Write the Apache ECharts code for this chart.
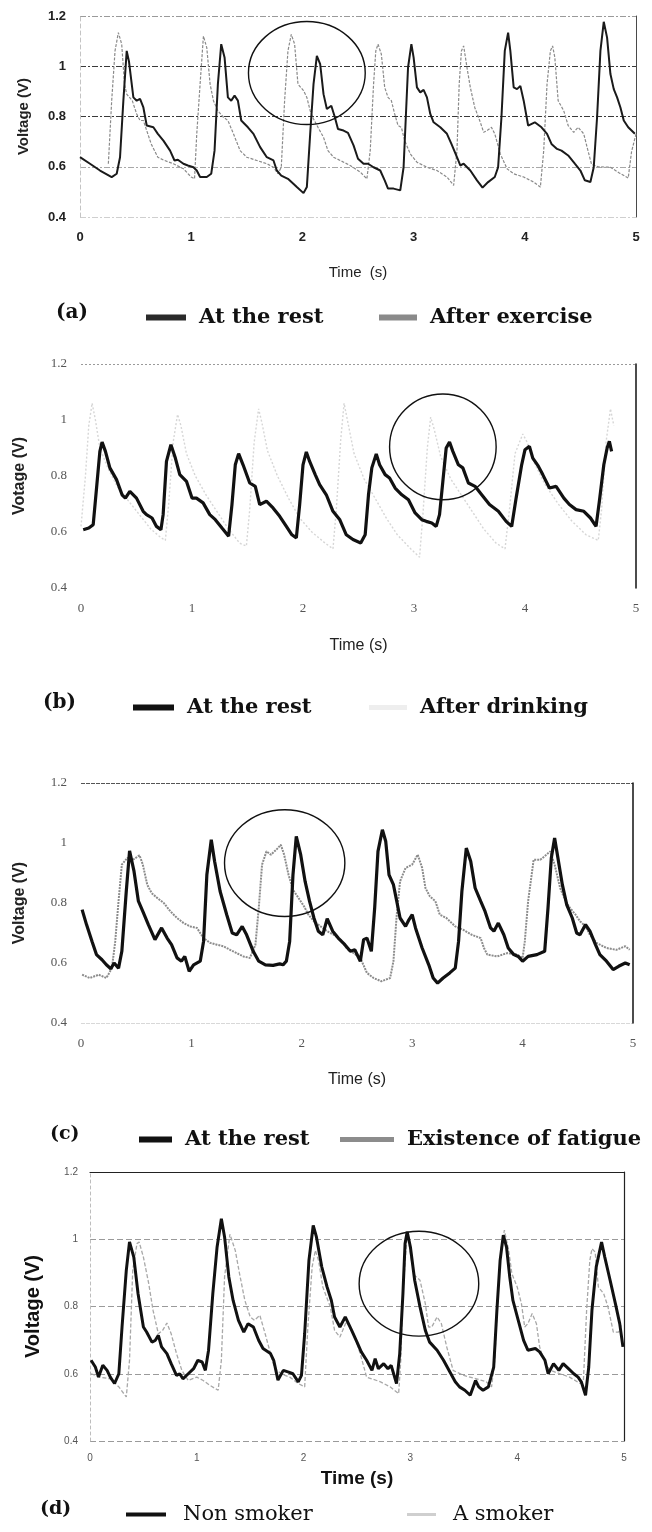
<!DOCTYPE html>
<html lang="en">
<head>
<meta charset="utf-8" />
<title>Pulse wave voltage</title>
<script src="https://cdn.jsdelivr.net/npm/echarts@6/dist/echarts.min.js"></script>
<style>
html, body { margin: 0; padding: 0; background: #fff; }
#chart { width: 652px; height: 1532px; }
</style>
</head>
<body>
<div id="chart"></div>
<script>
// axis ranges shared by the four panels
var timeTicks = [0, 1, 2, 3, 4, 5];
var voltTicks = [0.4, 0.6, 0.8, 1.0, 1.2];

// (a) at the rest / after exercise   [time (s), voltage (V)]
var restA = [[0,0.638],[0.09,0.612],[0.18,0.585],[0.285,0.559],[0.33,0.572],[0.36,0.638],[0.39,0.863],[0.42,1.061],[0.44,1.02],[0.48,0.876],[0.51,0.863],[0.54,0.87],[0.57,0.836],[0.60,0.764],[0.66,0.757],[0.70,0.731],[0.75,0.704],[0.81,0.664],[0.85,0.625],[0.88,0.628],[0.93,0.612],[0.97,0.605],[1.02,0.598],[1.05,0.585],[1.08,0.559],[1.14,0.559],[1.18,0.572],[1.21,0.664],[1.24,0.929],[1.27,1.088],[1.30,1.035],[1.33,0.876],[1.36,0.863],[1.39,0.883],[1.42,0.863],[1.45,0.784],[1.51,0.757],[1.56,0.731],[1.62,0.678],[1.68,0.638],[1.74,0.625],[1.77,0.585],[1.81,0.565],[1.87,0.552],[1.95,0.519],[2.01,0.495],[2.04,0.519],[2.07,0.731],[2.10,0.929],[2.13,1.041],[2.16,1.008],[2.19,0.889],[2.22,0.83],[2.26,0.843],[2.29,0.80],[2.32,0.75],[2.37,0.744],[2.41,0.735],[2.46,0.685],[2.50,0.632],[2.55,0.612],[2.59,0.612],[2.64,0.598],[2.70,0.585],[2.74,0.546],[2.77,0.513],[2.82,0.513],[2.88,0.506],[2.91,0.598],[2.93,0.797],[2.95,0.995],[2.98,1.088],[3.00,1.035],[3.03,0.916],[3.06,0.896],[3.09,0.906],[3.12,0.876],[3.15,0.81],[3.18,0.777],[3.24,0.757],[3.30,0.731],[3.34,0.691],[3.39,0.638],[3.42,0.605],[3.45,0.612],[3.51,0.585],[3.57,0.546],[3.62,0.517],[3.67,0.539],[3.73,0.559],[3.76,0.598],[3.79,0.797],[3.82,1.061],[3.85,1.134],[3.87,1.061],[3.90,0.916],[3.93,0.909],[3.96,0.922],[3.99,0.863],[4.03,0.764],[4.09,0.777],[4.15,0.757],[4.20,0.731],[4.24,0.691],[4.29,0.671],[4.33,0.664],[4.39,0.645],[4.45,0.612],[4.50,0.585],[4.54,0.546],[4.59,0.539],[4.62,0.598],[4.65,0.797],[4.68,1.061],[4.71,1.177],[4.74,1.114],[4.77,0.969],[4.80,0.909],[4.83,0.876],[4.86,0.836],[4.89,0.784],[4.93,0.757],[4.99,0.731]];
var exerciseA = [[0.255,0.612],[0.285,0.863],[0.315,1.061],[0.345,1.134],[0.375,1.088],[0.40,0.929],[0.42,0.889],[0.47,0.863],[0.51,0.81],[0.54,0.784],[0.57,0.784],[0.60,0.744],[0.64,0.691],[0.70,0.638],[0.76,0.625],[0.84,0.612],[0.93,0.592],[1.00,0.559],[1.03,0.552],[1.05,0.731],[1.08,0.929],[1.11,1.12],[1.14,1.074],[1.17,0.929],[1.20,0.863],[1.24,0.823],[1.29,0.797],[1.33,0.784],[1.38,0.731],[1.44,0.664],[1.50,0.638],[1.59,0.625],[1.68,0.612],[1.74,0.598],[1.78,0.572],[1.81,0.598],[1.84,0.863],[1.87,1.061],[1.90,1.127],[1.93,1.088],[1.96,0.929],[2.01,0.903],[2.04,0.876],[2.07,0.823],[2.10,0.79],[2.14,0.757],[2.19,0.717],[2.23,0.664],[2.28,0.638],[2.34,0.625],[2.43,0.605],[2.52,0.579],[2.58,0.552],[2.61,0.664],[2.64,0.929],[2.66,1.061],[2.68,1.088],[2.71,1.048],[2.74,0.916],[2.77,0.876],[2.80,0.863],[2.83,0.81],[2.86,0.764],[2.89,0.757],[2.92,0.704],[2.97,0.651],[3.03,0.618],[3.12,0.598],[3.21,0.585],[3.30,0.559],[3.36,0.526],[3.39,0.664],[3.41,0.929],[3.43,1.061],[3.45,1.081],[3.48,0.995],[3.51,0.916],[3.55,0.836],[3.60,0.777],[3.63,0.737],[3.66,0.744],[3.70,0.757],[3.73,0.731],[3.78,0.651],[3.84,0.592],[3.90,0.572],[3.99,0.559],[4.08,0.539],[4.14,0.519],[4.17,0.664],[4.20,0.929],[4.23,1.061],[4.25,1.081],[4.27,1.035],[4.30,0.863],[4.35,0.823],[4.39,0.764],[4.44,0.737],[4.48,0.757],[4.53,0.731],[4.56,0.678],[4.60,0.61],[4.66,0.60],[4.77,0.598],[4.85,0.575],[4.93,0.555],[4.96,0.66],[5.0,0.73]];

// (b) at the rest / after drinking
var restB = [[0.02,0.608],[0.07,0.614],[0.11,0.626],[0.14,0.757],[0.17,0.888],[0.19,0.921],[0.22,0.888],[0.26,0.829],[0.32,0.787],[0.37,0.733],[0.40,0.721],[0.44,0.745],[0.50,0.721],[0.56,0.674],[0.59,0.662],[0.64,0.65],[0.68,0.62],[0.72,0.608],[0.74,0.662],[0.77,0.852],[0.81,0.912],[0.85,0.864],[0.89,0.805],[0.95,0.781],[1.00,0.721],[1.04,0.721],[1.10,0.704],[1.16,0.662],[1.21,0.644],[1.27,0.614],[1.33,0.585],[1.36,0.698],[1.39,0.84],[1.42,0.88],[1.46,0.84],[1.52,0.775],[1.57,0.763],[1.61,0.698],[1.67,0.71],[1.73,0.686],[1.79,0.656],[1.85,0.62],[1.90,0.59],[1.94,0.579],[1.97,0.698],[2.00,0.84],[2.03,0.886],[2.06,0.852],[2.11,0.805],[2.15,0.769],[2.21,0.733],[2.27,0.674],[2.33,0.645],[2.39,0.59],[2.45,0.573],[2.52,0.561],[2.56,0.59],[2.59,0.733],[2.62,0.829],[2.66,0.879],[2.69,0.84],[2.74,0.805],[2.78,0.793],[2.83,0.757],[2.89,0.733],[2.95,0.715],[3.01,0.668],[3.07,0.644],[3.11,0.638],[3.16,0.632],[3.20,0.62],[3.23,0.662],[3.26,0.781],[3.29,0.9],[3.32,0.921],[3.35,0.888],[3.40,0.84],[3.44,0.829],[3.49,0.775],[3.55,0.763],[3.61,0.733],[3.68,0.698],[3.76,0.674],[3.83,0.638],[3.88,0.62],[3.92,0.721],[3.97,0.84],[4.00,0.894],[4.04,0.906],[4.07,0.864],[4.12,0.835],[4.16,0.805],[4.22,0.757],[4.28,0.763],[4.35,0.721],[4.40,0.698],[4.46,0.68],[4.53,0.674],[4.59,0.65],[4.64,0.62],[4.67,0.71],[4.71,0.84],[4.74,0.9],[4.76,0.924],[4.78,0.888]];
var drinkB = [[0.00,0.62],[0.04,0.80],[0.07,0.98],[0.10,1.06],[0.13,1.00],[0.17,0.90],[0.24,0.83],[0.33,0.76],[0.43,0.71],[0.53,0.66],[0.63,0.61],[0.72,0.58],[0.76,0.57],[0.79,0.70],[0.83,0.92],[0.87,1.02],[0.90,0.98],[0.95,0.88],[1.03,0.80],[1.13,0.73],[1.23,0.67],[1.33,0.61],[1.43,0.56],[1.49,0.55],[1.52,0.68],[1.56,0.92],[1.60,1.04],[1.63,0.99],[1.68,0.89],[1.77,0.80],[1.87,0.72],[1.97,0.65],[2.08,0.60],[2.20,0.56],[2.27,0.54],[2.30,0.68],[2.34,0.93],[2.37,1.06],[2.40,1.00],[2.46,0.88],[2.55,0.79],[2.65,0.72],[2.75,0.65],[2.85,0.59],[2.97,0.54],[3.05,0.51],[3.08,0.66],[3.12,0.90],[3.15,1.01],[3.18,0.97],[3.24,0.87],[3.33,0.79],[3.43,0.73],[3.53,0.67],[3.63,0.61],[3.74,0.56],[3.82,0.54],[3.86,0.68],[3.91,0.88],[3.98,0.95],[4.02,0.92],[4.08,0.85],[4.18,0.77],[4.30,0.70],[4.42,0.64],[4.55,0.59],[4.66,0.57],[4.69,0.68],[4.73,0.92],[4.77,1.04],[4.80,0.98]];

// (c) at the rest / existence of fatigue
var restC = [[0.01,0.778],[0.05,0.728],[0.10,0.672],[0.14,0.628],[0.19,0.611],[0.23,0.594],[0.27,0.581],[0.30,0.600],[0.34,0.583],[0.37,0.639],[0.41,0.839],[0.44,0.974],[0.48,0.906],[0.52,0.806],[0.56,0.772],[0.61,0.728],[0.67,0.678],[0.73,0.717],[0.78,0.683],[0.82,0.661],[0.87,0.617],[0.91,0.606],[0.94,0.622],[0.98,0.572],[1.02,0.594],[1.08,0.606],[1.11,0.672],[1.14,0.894],[1.18,1.011],[1.21,0.939],[1.26,0.839],[1.32,0.761],[1.37,0.700],[1.41,0.694],[1.46,0.722],[1.50,0.694],[1.56,0.639],[1.61,0.606],[1.67,0.594],[1.74,0.592],[1.80,0.597],[1.83,0.594],[1.86,0.606],[1.89,0.672],[1.92,0.894],[1.95,1.022],[1.99,0.961],[2.03,0.872],[2.07,0.806],[2.11,0.750],[2.15,0.706],[2.19,0.694],[2.23,0.748],[2.28,0.706],[2.33,0.683],[2.39,0.661],[2.44,0.639],[2.48,0.644],[2.53,0.606],[2.56,0.678],[2.59,0.683],[2.63,0.639],[2.66,0.783],[2.69,0.972],[2.73,1.044],[2.76,1.006],[2.79,0.894],[2.83,0.861],[2.86,0.806],[2.89,0.750],[2.94,0.722],[2.97,0.744],[3.00,0.761],[3.03,0.717],[3.09,0.650],[3.15,0.594],[3.19,0.550],[3.23,0.533],[3.28,0.550],[3.34,0.567],[3.39,0.583],[3.42,0.672],[3.45,0.839],[3.49,0.983],[3.53,0.939],[3.57,0.850],[3.62,0.806],[3.66,0.772],[3.71,0.717],[3.74,0.706],[3.78,0.733],[3.83,0.694],[3.87,0.650],[3.92,0.628],[3.96,0.622],[4.00,0.606],[4.05,0.622],[4.13,0.628],[4.20,0.639],[4.23,0.783],[4.26,0.950],[4.29,1.017],[4.32,0.950],[4.36,0.861],[4.40,0.794],[4.45,0.750],[4.49,0.700],[4.52,0.694],[4.57,0.728],[4.61,0.706],[4.66,0.661],[4.70,0.628],[4.76,0.606],[4.82,0.578],[4.87,0.589],[4.93,0.600],[4.97,0.594]];
var fatigueC = [[0.01,0.561],[0.08,0.550],[0.16,0.561],[0.23,0.550],[0.28,0.583],[0.31,0.672],[0.34,0.806],[0.37,0.928],[0.42,0.950],[0.47,0.944],[0.53,0.959],[0.56,0.928],[0.60,0.861],[0.64,0.833],[0.69,0.817],[0.75,0.800],[0.81,0.772],[0.87,0.750],[0.93,0.733],[0.99,0.722],[1.05,0.717],[1.11,0.683],[1.17,0.667],[1.23,0.661],[1.29,0.656],[1.35,0.644],[1.41,0.633],[1.47,0.622],[1.53,0.617],[1.58,0.661],[1.61,0.783],[1.64,0.928],[1.68,0.972],[1.72,0.961],[1.77,0.978],[1.81,0.994],[1.84,0.961],[1.88,0.894],[1.92,0.844],[1.97,0.817],[2.02,0.789],[2.06,0.761],[2.11,0.739],[2.17,0.722],[2.23,0.706],[2.29,0.694],[2.35,0.678],[2.41,0.647],[2.47,0.633],[2.53,0.617],[2.59,0.567],[2.65,0.550],[2.72,0.539],[2.80,0.550],[2.83,0.606],[2.86,0.761],[2.89,0.872],[2.94,0.917],[3.00,0.928],[3.05,0.961],[3.09,0.917],[3.12,0.850],[3.16,0.822],[3.21,0.806],[3.25,0.761],[3.31,0.750],[3.39,0.722],[3.46,0.711],[3.54,0.694],[3.62,0.683],[3.65,0.650],[3.68,0.628],[3.77,0.622],[3.86,0.633],[3.95,0.628],[4.00,0.617],[4.02,0.672],[4.05,0.806],[4.10,0.944],[4.16,0.944],[4.20,0.956],[4.25,0.972],[4.29,0.928],[4.34,0.850],[4.39,0.806],[4.43,0.783],[4.48,0.761],[4.52,0.739],[4.57,0.722],[4.61,0.694],[4.67,0.667],[4.76,0.650],[4.85,0.644],[4.93,0.656],[4.97,0.644]];

// (d) non smoker / a smoker
var restD = [[0.01,0.640],[0.05,0.620],[0.08,0.590],[0.12,0.625],[0.16,0.610],[0.19,0.590],[0.23,0.571],[0.27,0.600],[0.30,0.739],[0.34,0.908],[0.37,0.992],[0.41,0.947],[0.45,0.838],[0.50,0.739],[0.53,0.724],[0.58,0.694],[0.61,0.699],[0.64,0.714],[0.67,0.680],[0.72,0.660],[0.76,0.630],[0.81,0.595],[0.84,0.600],[0.87,0.585],[0.92,0.600],[0.97,0.615],[1.01,0.640],[1.05,0.635],[1.08,0.610],[1.11,0.670],[1.15,0.838],[1.19,0.977],[1.23,1.061],[1.26,1.007],[1.30,0.888],[1.34,0.818],[1.39,0.759],[1.44,0.724],[1.48,0.749],[1.53,0.739],[1.58,0.699],[1.62,0.675],[1.69,0.660],[1.72,0.640],[1.76,0.581],[1.81,0.610],[1.86,0.605],[1.90,0.600],[1.95,0.576],[1.98,0.595],[2.01,0.719],[2.05,0.937],[2.09,1.041],[2.12,1.007],[2.17,0.918],[2.22,0.858],[2.26,0.818],[2.29,0.769],[2.34,0.739],[2.39,0.769],[2.45,0.729],[2.50,0.694],[2.54,0.665],[2.59,0.640],[2.64,0.610],[2.67,0.645],[2.70,0.615],[2.75,0.630],[2.79,0.615],[2.82,0.625],[2.87,0.571],[2.90,0.660],[2.93,0.838],[2.95,0.987],[2.97,1.022],[3.00,0.977],[3.04,0.878],[3.09,0.799],[3.14,0.729],[3.18,0.694],[3.25,0.670],[3.31,0.640],[3.37,0.605],[3.42,0.576],[3.46,0.561],[3.51,0.551],[3.56,0.536],[3.61,0.580],[3.64,0.561],[3.68,0.551],[3.73,0.561],[3.78,0.620],[3.81,0.789],[3.84,0.937],[3.87,1.012],[3.90,0.977],[3.93,0.888],[3.96,0.818],[4.01,0.759],[4.06,0.699],[4.10,0.670],[4.17,0.675],[4.21,0.665],[4.26,0.640],[4.29,0.600],[4.34,0.630],[4.39,0.610],[4.43,0.630],[4.48,0.615],[4.53,0.600],[4.57,0.590],[4.60,0.576],[4.64,0.536],[4.67,0.620],[4.70,0.789],[4.74,0.918],[4.79,0.992],[4.82,0.947],[4.87,0.878],[4.92,0.808],[4.96,0.749],[4.99,0.680]];
var smokerD = [[0.01,0.600],[0.09,0.590],[0.19,0.585],[0.27,0.561],[0.34,0.531],[0.37,0.640],[0.40,0.908],[0.44,0.987],[0.46,0.992],[0.50,0.947],[0.55,0.868],[0.59,0.789],[0.64,0.719],[0.68,0.729],[0.72,0.751],[0.76,0.719],[0.81,0.660],[0.86,0.610],[0.92,0.580],[1.00,0.590],[1.06,0.580],[1.12,0.566],[1.20,0.551],[1.23,0.640],[1.26,0.888],[1.31,1.015],[1.36,0.967],[1.40,0.898],[1.45,0.818],[1.50,0.769],[1.54,0.759],[1.59,0.774],[1.64,0.719],[1.69,0.660],[1.73,0.615],[1.79,0.600],[1.87,0.590],[1.95,0.571],[2.01,0.561],[2.04,0.739],[2.08,0.918],[2.11,0.967],[2.14,0.937],[2.18,0.858],[2.25,0.799],[2.29,0.729],[2.34,0.709],[2.40,0.755],[2.47,0.719],[2.53,0.660],[2.59,0.590],[2.72,0.576],[2.81,0.561],[2.89,0.541],[2.91,0.640],[2.93,0.838],[2.97,1.022],[3.01,0.937],[3.04,0.892],[3.09,0.878],[3.14,0.808],[3.17,0.739],[3.20,0.739],[3.25,0.769],[3.29,0.749],[3.34,0.680],[3.40,0.610],[3.50,0.595],[3.62,0.585],[3.71,0.576],[3.76,0.561],[3.79,0.640],[3.82,0.838],[3.85,0.977],[3.88,1.027],[3.92,0.967],[3.95,0.898],[4.00,0.858],[4.04,0.808],[4.07,0.739],[4.10,0.749],[4.14,0.779],[4.18,0.749],[4.21,0.680],[4.26,0.630],[4.31,0.610],[4.40,0.600],[4.49,0.590],[4.59,0.571],[4.62,0.580],[4.65,0.789],[4.68,0.937],[4.70,0.972],[4.73,0.962],[4.76,0.858],[4.81,0.838],[4.85,0.799],[4.90,0.724],[4.95,0.724],[4.98,0.749]];

// circled regions: [centre time, centre voltage, half width (s), half height (V)]
var circleA = [2.04, 0.973, 0.525, 0.205];
var circleB = [3.26, 0.904, 0.48, 0.189];
var circleC = [1.845, 0.933, 0.545, 0.178];
var circleD = [3.08, 0.868, 0.56, 0.156];

var chart = echarts.init(document.getElementById('chart'));

var tMin = timeTicks[0], tMax = timeTicks[timeTicks.length - 1], tStep = timeTicks[1] - timeTicks[0];
var vMin = voltTicks[0], vMax = voltTicks[voltTicks.length - 1], vStep = 0.2;
var clear = 'rgba(0,0,0,0)';

var sans = 'Liberation Sans', serif = 'Liberation Serif', wideSerif = 'DejaVu Serif';

function mainX(i, lab, nameGap, nameStyle, name) {
  return {
    gridIndex: i, type: 'value', min: tMin, max: tMax, interval: tStep,
    axisLine: { show: false }, axisTick: { show: false }, splitLine: { show: false },
    axisLabel: lab,
    name: name || 'Time (s)', nameLocation: 'middle', nameGap: nameGap, nameTextStyle: nameStyle
  };
}
function mainY(i, lab, grid, leftLine, name, nameGap, nameStyle) {
  return {
    gridIndex: i, type: 'value', min: vMin, max: vMax, interval: vStep,
    axisLine: leftLine ? { show: true, lineStyle: leftLine } : { show: false },
    axisTick: { show: false },
    splitLine: { show: true, lineStyle: grid },
    axisLabel: lab,
    name: name, nameLocation: 'middle', nameGap: nameGap, nameTextStyle: nameStyle
  };
}
function borderY(i, color, width) {
  return {
    gridIndex: i, type: 'value', position: 'right', min: vMin, max: vMax,
    axisLine: { show: true, onZero: false, lineStyle: { color: color, width: width } },
    axisTick: { show: false }, axisLabel: { show: false }, splitLine: { show: false }
  };
}
function line(name, i, data, color, width, type, z) {
  return {
    name: name, type: 'line', xAxisIndex: i, yAxisIndex: i, data: data,
    showSymbol: false, symbol: 'none', smooth: false, z: z,
    lineStyle: { color: color, width: width, type: type },
    itemStyle: { color: color }
  };
}
function circle(i, c) {
  return {
    type: 'custom', xAxisIndex: i, yAxisIndex: i, data: [c], clip: false, silent: true, z: 6,
    renderItem: function (params, api) {
      var p = api.coord([api.value(0), api.value(1)]);
      var s = api.size([api.value(2), api.value(3)]);
      return {
        type: 'ellipse',
        shape: { cx: p[0], cy: p[1], rx: s[0], ry: s[1] },
        style: { fill: 'none', stroke: '#111', lineWidth: 1.4 }
      };
    }
  };
}
function key(name, left, top, color, w, h, font) {
  return {
    left: left, top: top, itemWidth: w, itemHeight: h, selectedMode: false,
    data: [{ name: name, icon: 'rect', itemStyle: { color: color, borderWidth: 0 } }],
    textStyle: font
  };
}

var labA = { margin: 14, fontFamily: sans, fontSize: 13, fontWeight: 'bold', color: '#222' };
var labSerif = { margin: 14, fontFamily: serif, fontSize: 13, color: '#555' };
var labD = { margin: 12, fontFamily: sans, fontSize: 10, color: '#555' };
var keyBold = { fontFamily: wideSerif, fontWeight: 'bold', fontSize: 21, color: '#111', padding: [0, 0, 0, 8] };
var keyPlain = { fontFamily: wideSerif, fontSize: 21, color: '#111', padding: [0, 0, 0, 12] };
var tagBold = { fontFamily: wideSerif, fontWeight: 'bold', fontSize: 20, color: '#111' };

var option = {
  backgroundColor: '#fff',
  animation: false,
  grid: [
    { left: 80, top: 16, width: 556, height: 201 },
    { left: 81, top: 364, width: 555, height: 224 },
    { left: 81, top: 783, width: 552, height: 240 },
    { left: 90, top: 1172, width: 534, height: 269 }
  ],
  title: [
    { text: '(a)', left: 56, top: 303, padding: 0, textStyle: tagBold },
    { text: '(b)', left: 43, top: 693, padding: 0, textStyle: tagBold },
    { text: '(c)', left: 50, top: 1125, padding: 0, textStyle: { fontFamily: wideSerif, fontSize: 19, color: '#111' } },
    { text: '(d)', left: 40, top: 1500, padding: 0, textStyle: { fontFamily: wideSerif, fontSize: 19, color: '#111' } }
  ],
  legend: [
    key('At the rest', 141, 302, '#2a2a2a', 40, 6, keyBold),
    key('After exercise', 374, 302, '#8a8a8a', 38, 6, keyBold),
    key('At the rest', 128, 692, '#111', 41, 6, keyBold),
    key('After drinking', 364, 692, '#eeeeee', 38, 5, keyBold),
    key('At the rest', 134, 1124, '#111', 33, 6, keyBold),
    key('Existence of fatigue', 335, 1124, '#8c8c8c', 54, 5, keyBold),
    key('Non smoker', 121, 1499, '#111', 40, 4, keyPlain),
    key('A smoker', 402, 1499, '#cfcfcf', 29, 3, keyPlain)
  ],
  xAxis: [
    mainX(0, labA, 48, { fontFamily: sans, fontSize: 15, color: '#222' }, 'Time  (s)'),
    mainX(1, labSerif, 50, { fontFamily: sans, fontSize: 16, color: '#222' }),
    mainX(2, labSerif, 49, { fontFamily: sans, fontSize: 16, color: '#222' }),
    mainX(3, labD, 28, { fontFamily: sans, fontSize: 19, fontWeight: 'bold', color: '#111' }),
    // solid top border of panel (d)
    { gridIndex: 3, type: 'value', position: 'top', min: tMin, max: tMax,
      axisLine: { show: true, onZero: false, lineStyle: { color: '#222', width: 1.2 } },
      axisTick: { show: false }, axisLabel: { show: false }, splitLine: { show: false } }
  ],
  yAxis: [
    mainY(0, labA, { color: ['#cfcfcf', '#a8a8a8', '#3a3a3a', '#3a3a3a', '#9a9a9a'], type: [6, 2, 2, 2], width: 1 },
      { color: '#c4c4c4', type: [4, 3] }, 'Voltage (V)', 49, { fontFamily: sans, fontSize: 15, fontWeight: 'bold', color: '#222' }),
    mainY(1, labSerif, { color: [clear, clear, clear, clear, '#9a9a9a'], type: [2, 2], width: 1 },
      null, 'Votage (V)', 53, { fontFamily: sans, fontSize: 16, fontWeight: 'bold', color: '#222' }),
    mainY(2, labSerif, { color: ['#d8d8d8', clear, clear, clear, '#555'], type: [4, 1], width: 1 },
      null, 'Voltage (V)', 53, { fontFamily: sans, fontSize: 16, fontWeight: 'bold', color: '#222' }),
    mainY(3, labD, { color: ['#9a9a9a', '#9a9a9a', '#9a9a9a', '#9a9a9a', clear], type: [6, 3], width: 1 },
      { color: '#bdbdbd', type: [3, 3] }, 'Voltage (V)', 47, { fontFamily: sans, fontSize: 20, fontWeight: 'bold', color: '#111' }),
    borderY(0, '#4a4a4a', 1),
    borderY(1, '#111', 1.5),
    borderY(2, '#111', 1.5),
    borderY(3, '#222', 1.2)
  ],
  series: [
    line('After exercise', 0, exerciseA, '#8a8a8a', 1.2, [3, 1.5], 2),
    line('At the rest', 0, restA, '#1a1a1a', 2, 'solid', 3),
    line('After drinking', 1, drinkB, '#d6d6d6', 1.4, [2, 2], 2),
    line('At the rest', 1, restB, '#111', 3.2, 'solid', 3),
    line('Existence of fatigue', 2, fatigueC, '#8c8c8c', 2, [2, 1], 2),
    line('At the rest', 2, restC, '#111', 3.2, 'solid', 3),
    line('A smoker', 3, smokerD, '#a8a8a8', 1.3, [4, 2], 2),
    line('Non smoker', 3, restD, '#111', 3, 'solid', 3),
    circle(0, circleA),
    circle(1, circleB),
    circle(2, circleC),
    circle(3, circleD)
  ]
};

chart.setOption(option);
</script>
</body>
</html>
